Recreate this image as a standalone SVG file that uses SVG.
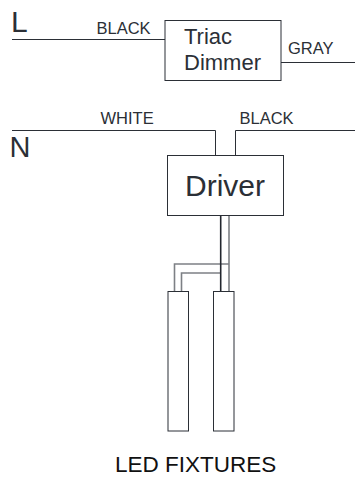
<svg xmlns="http://www.w3.org/2000/svg" width="355" height="477" viewBox="0 0 355 477">
<style>
.l{fill:none;stroke:#2b2f36;stroke-width:1}
.k{fill:none;stroke:#23272e;stroke-width:1.600}
.g{fill:none;stroke:#7d8085;stroke-width:1.600}
.b{fill:#fff;stroke:#2b2f36;stroke-width:1}
text{font-family:"Liberation Sans",Arial,sans-serif;fill:#2b2f36}
.w{font-size:16.500px}
</style>
<rect width="355" height="477" fill="#fff"/>
<g id="connectors">
<path class="l" d="M12 39.500H165"/>
<path class="l" d="M281 62.500H355"/>
<path class="l" d="M12 130.500H215.500V155"/>
<path class="l" d="M355 130.500H235.500V155"/>
<path class="g" d="M229 215V291"/>
<path class="g" d="M229 264H174.500V291"/>
<path class="g" d="M220 273H181.500V291"/>
<path class="k" d="M220.700 215V291"/>
</g>
<g id="triac-dimmer">
<rect class="b" x="165" y="20.500" width="116" height="60"/>
<text x="184" y="43.500" font-size="22">Triac</text>
<text x="184" y="70" font-size="22">Dimmer</text>
</g>
<g id="driver">
<rect class="b" x="167.500" y="155.500" width="116" height="60"/>
<text x="185" y="196" font-size="30">Driver</text>
</g>
<g id="fixture-left">
<rect class="b" x="168" y="291.500" width="20.500" height="139.500"/>
</g>
<g id="fixture-right">
<rect class="b" x="213.500" y="291.500" width="20.500" height="139.500"/>
</g>
<g id="labels">
<text x="11" y="32" font-size="30">L</text>
<text x="9.500" y="157" font-size="29">N</text>
<text class="w" x="96.500" y="33.500">BLACK</text>
<text class="w" x="288" y="54">GRAY</text>
<text class="w" x="100.500" y="124">WHITE</text>
<text class="w" x="239.500" y="124">BLACK</text>
<text x="115" y="472" font-size="22.500" style="fill:#111">LED FIXTURES</text>
</g>
</svg>
